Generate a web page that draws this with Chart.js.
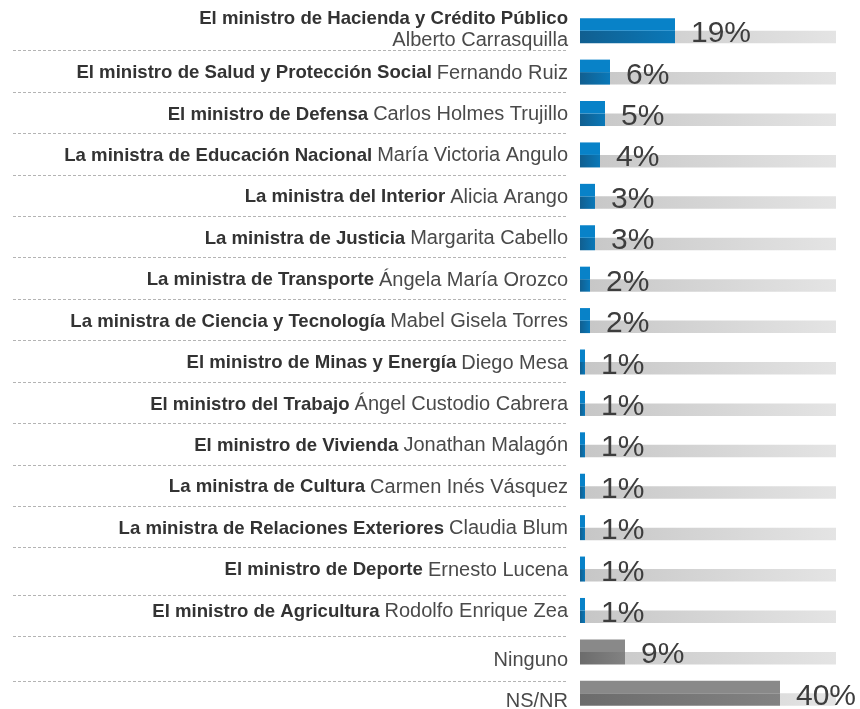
<!DOCTYPE html>
<html>
<head>
<meta charset="utf-8">
<script src="https://cdn.jsdelivr.net/npm/chart.js@4"></script>
<style>
  html, body { margin: 0; padding: 0; background: #fff; overflow: hidden; }
  #wrap { width: 860px; height: 714px; }
</style>
</head>
<body>
<div id="wrap"><canvas id="grafico"></canvas></div>
<script>
// cargos (parte en negrita) y nombres
const cargos = [
  'El ministro de Hacienda y Crédito Público',
  'El ministro de Salud y Protección Social',
  'El ministro de Defensa',
  'La ministra de Educación Nacional',
  'La ministra del Interior',
  'La ministra de Justicia',
  'La ministra de Transporte',
  'La ministra de Ciencia y Tecnología',
  'El ministro de Minas y Energía',
  'El ministro del Trabajo',
  'El ministro de Vivienda',
  'La ministra de Cultura',
  'La ministra de Relaciones Exteriores',
  'El ministro de Deporte',
  'El ministro de Agricultura',
  '',
  ''
];
const nombres = [
  'Alberto Carrasquilla',
  'Fernando Ruiz',
  'Carlos Holmes Trujillo',
  'María Victoria Angulo',
  'Alicia Arango',
  'Margarita Cabello',
  'Ángela María Orozco',
  'Mabel Gisela Torres',
  'Diego Mesa',
  'Ángel Custodio Cabrera',
  'Jonathan Malagón',
  'Carmen Inés Vásquez',
  'Claudia Blum',
  'Ernesto Lucena',
  'Rodolfo Enrique Zea',
  'Ninguno',
  'NS/NR'
];
const porcentajes = [19, 6, 5, 4, 3, 3, 2, 2, 1, 1, 1, 1, 1, 1, 1, 9, 40];
const maxPista = 51.2;   // largo de la barra gris de fondo
const maxEje = 56;

const etiquetas = nombres.map((n, i) => cargos[i] ? cargos[i] + ' ' + n : n);
const resto = porcentajes.map(v => maxPista - v);

const esGris = i => !cargos[i];

function degradado(chart, x0, x1, c0, c1) {
  const g = chart.ctx.createLinearGradient(x0, 0, x1, 0);
  g.addColorStop(0, c0);
  g.addColorStop(1, c1);
  return g;
}

// parte inferior de la barra: mas oscura a la izquierda
function colorInferior(c) {
  const chart = c.chart;
  const x = chart.scales.x;
  const plano = esGris(c.dataIndex) ? '#7a7a7a' : '#0a6fa8';
  if (!chart.chartArea || !x || c.raw === undefined) return plano;
  const x0 = x.getPixelForValue(0);
  const x1 = x.getPixelForValue(c.raw);
  if (!Number.isFinite(x0) || !Number.isFinite(x1)) return plano;
  return esGris(c.dataIndex)
    ? degradado(chart, x0, Math.max(x1, x0 + 1), '#6c6c6c', '#828282')
    : degradado(chart, x0, Math.max(x1, x0 + 1), '#115f90', '#0a78b8');
}

function colorPista(c) {
  const chart = c.chart;
  const x = chart.scales.x;
  if (!chart.chartArea || !x) return '#d6d6d6';
  const x0 = x.getPixelForValue(0);
  const x1 = x.getPixelForValue(maxPista);
  if (!Number.isFinite(x0) || !Number.isFinite(x1)) return '#d6d6d6';
  return degradado(chart, x0, x1, '#c6c6c6', '#e4e4e4');
}

// nombres a la izquierda y lineas punteadas
const pluginEtiquetas = {
  id: 'etiquetas',
  afterDraw(chart) {
    const ctx = chart.ctx;
    const y = chart.scales.y;
    const barras = chart.getDatasetMeta(0).data;
    const xDer = 568;
    const fBold = 'bold 18.6px "Liberation Sans", Arial, sans-serif';
    const fReg = '20px "Liberation Sans", Arial, sans-serif';
    ctx.save();
    ctx.textAlign = 'right';
    cargos.forEach((cargo, i) => {
      const yc = y.getPixelForValue(i);
      ctx.font = fReg;
      const wReg = ctx.measureText(nombres[i]).width;
      ctx.font = fBold;
      const wBold = ctx.measureText(cargo).width;
      if (!cargo) {
        ctx.textBaseline = 'alphabetic';
        ctx.font = fReg;
        ctx.fillStyle = '#4a4a4a';
        ctx.fillText(nombres[i], xDer, yc + 14);
      } else if (wBold + wReg + 5 > 530) {
        ctx.textBaseline = 'alphabetic';
        ctx.font = fBold;
        ctx.fillStyle = '#333';
        ctx.fillText(cargo, xDer, yc - 7);
        ctx.font = fReg;
        ctx.fillStyle = '#4a4a4a';
        ctx.fillText(nombres[i], xDer, yc + 15);
      } else {
        ctx.textBaseline = 'middle';
        ctx.font = fReg;
        ctx.fillStyle = '#4a4a4a';
        ctx.fillText(nombres[i], xDer, yc + 1);
        ctx.font = fBold;
        ctx.fillStyle = '#333';
        ctx.fillText(cargo, xDer - wReg - 5, yc + 1);
      }
      // separador debajo de la fila
      if (i < cargos.length - 1) {
        const sig = y.getPixelForValue(i + 1);
        const topeSig = barras[i + 1].y - barras[i + 1].height / 2;
        let ys = (yc + sig) / 2 - 1;
        if (i >= 13) ys = topeSig - 3;
        if (i === cargos.length - 2) ys = topeSig;
        ys = Math.round(ys) + 0.5;
        ctx.strokeStyle = '#b4b4b4';
        ctx.lineWidth = 1;
        ctx.setLineDash([3, 2]);
        ctx.beginPath();
        ctx.moveTo(13, ys);
        ctx.lineTo(568, ys);
        ctx.stroke();
      }
    });
    ctx.restore();
  }
};

// valores en porcentaje al final de cada barra
const pluginValores = {
  id: 'valores',
  afterDatasetsDraw(chart) {
    const ctx = chart.ctx;
    const arriba = chart.getDatasetMeta(0).data;
    const abajo = chart.getDatasetMeta(1).data;
    ctx.save();
    ctx.font = '30px "Liberation Sans", Arial, sans-serif';
    ctx.fillStyle = '#3d3d3d';
    ctx.textAlign = 'left';
    ctx.textBaseline = 'alphabetic';
    porcentajes.forEach((v, i) => {
      const b = abajo[i];
      ctx.fillText(v + '%', arriba[i].x + 16, b.y + b.height / 2 - 1);
    });
    ctx.restore();
  }
};

const ctx = document.getElementById('grafico').getContext('2d');
const grafico = new Chart(ctx, {
  type: 'bar',
  data: {
    labels: etiquetas,
    datasets: [
      {
        label: 'arriba',
        data: porcentajes,
        stack: 'a',
        backgroundColor: c => esGris(c.dataIndex) ? '#898989' : '#0882c8',
        borderWidth: 0
      },
      {
        label: 'abajo',
        data: porcentajes,
        stack: 'b',
        backgroundColor: colorInferior,
        borderWidth: 0
      },
      {
        label: 'pista',
        data: resto,
        stack: 'b',
        backgroundColor: colorPista,
        borderWidth: 0
      }
    ]
  },
  options: {
    indexAxis: 'y',
    responsive: true,
    maintainAspectRatio: false,
    animation: false,
    categoryPercentage: 0.604,
    barPercentage: 1,
    layout: { padding: { left: 580, right: 0, top: 10, bottom: 0 } },
    scales: {
      x: { stacked: true, min: 0, max: maxEje, display: false },
      y: { stacked: true, display: false }
    },
    plugins: {
      legend: { display: false },
      tooltip: { enabled: false }
    }
  },
  plugins: [pluginEtiquetas, pluginValores]
});
</script>
</body>
</html>
